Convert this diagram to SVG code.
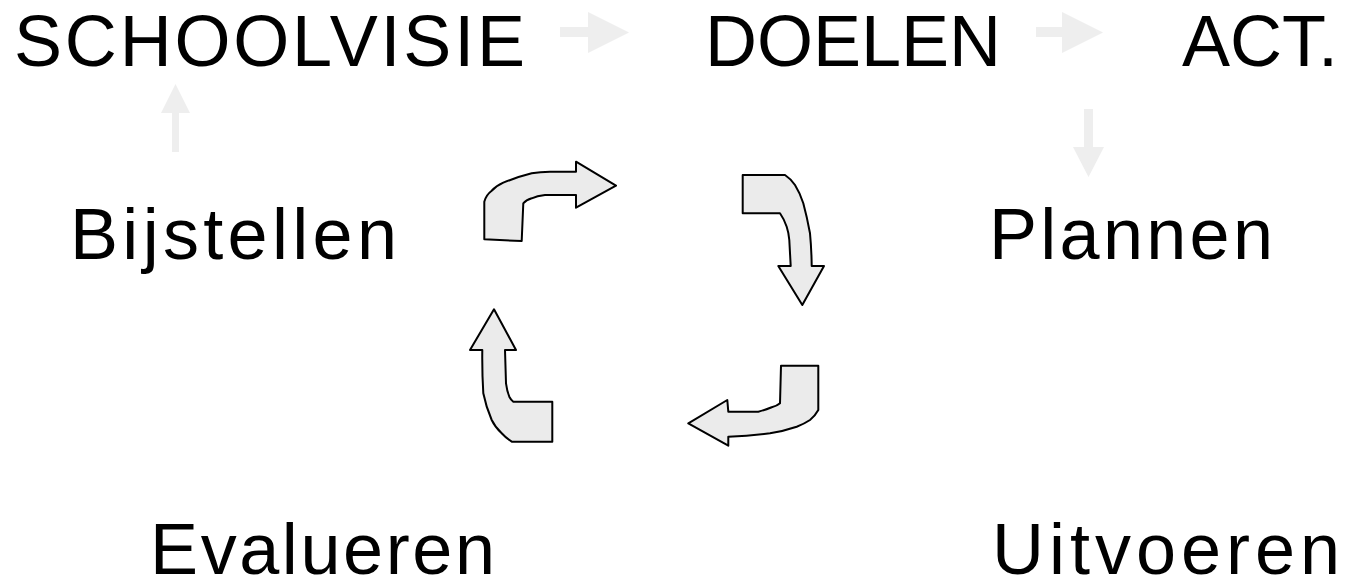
<svg xmlns="http://www.w3.org/2000/svg" width="1350" height="578" viewBox="0 0 1350 578">
<style>
.t{font-family:"Liberation Sans",Arial,sans-serif;font-size:72px;fill:#000}
.lite{fill:#eeeeee;stroke:none}
.cyc{fill:#ebebeb;stroke:#000;stroke-width:2;stroke-linejoin:round}
</style>
<rect width="1350" height="578" fill="#fff"/>
<g id="schoolvisie"><text class="t" x="14" y="66" textLength="511">SCHOOLVISIE</text></g>
<g id="doelen"><text class="t" x="705" y="66" textLength="296">DOELEN</text></g>
<g id="act"><text class="t" x="1182" y="66">ACT.</text></g>
<g id="bijstellen"><text class="t" x="70" y="259" textLength="327">Bijstellen</text></g>
<g id="plannen"><text class="t" x="989" y="259" textLength="284">Plannen</text></g>
<g id="evalueren"><text class="t" x="150" y="574" textLength="345">Evalueren</text></g>
<g id="uitvoeren"><text class="t" x="992" y="574" textLength="348">Uitvoeren</text></g>
<g id="connectors">
<polygon class="lite" points="560,27 588,27 588,12 629,32.5 588,53 588,37 560,37"/>
<polygon class="lite" points="1036,27 1062,27 1062,12 1103,32.5 1062,53 1062,37 1036,37"/>
<polygon class="lite" points="1084,109 1093,109 1093,147 1104,147 1088.5,177 1073,147 1084,147"/>
<polygon class="lite" points="172,152 179,152 179,113 190,113 175.5,84 161,113 172,113"/>
<path class="cyc" d="M484.3,239.3 L484.3,201.7 Q486,195 491.7,190.7 Q496,186 503.3,182.7 Q517,177 531.7,173.3 Q540,171.7 550,171.7 L576,171.7 L576,161.7 L616,185.7 L576,207.7 L576,195 L545,195 Q537,196 531.7,198.3 Q526,200 523.3,203.3 L521.7,241 Z"/>
<path class="cyc" d="M742.7,175 L785,175 Q791,179 795,185 Q800,193 803.3,203.3 Q807,217 810,233.3 Q811.5,249 811.7,266 L824,266 L802.3,305 L778.3,266 L790.7,266 L789.3,240 Q788.5,232 786.7,226.7 Q784,219 780,213.3 L742.7,213.3 Z"/>
<path class="cyc" d="M781,365.7 L818.3,365.7 L818.3,410 Q815,416 810,420 Q804,424 796.7,426.7 Q784,431 770,433.3 Q750,436 728.3,436.7 L728.3,445.7 L688.3,423.3 L727.3,400 L728.3,411.7 L758.3,411.7 Q765,410 771.7,407.3 Q777,406 780,403.3 Z"/>
<path class="cyc" d="M494,309.3 L516,350 L505,350 L506,383.3 Q507,391 509.3,396.7 Q511,400 513.3,401.7 L552.3,401.7 L552.3,441.7 L511.7,441.7 Q506,438 501.7,433.3 Q495,427 491.7,420 Q486,407 483.3,393.3 Q482,372 482.3,350 L470,350 Z"/>
</g>
</svg>
